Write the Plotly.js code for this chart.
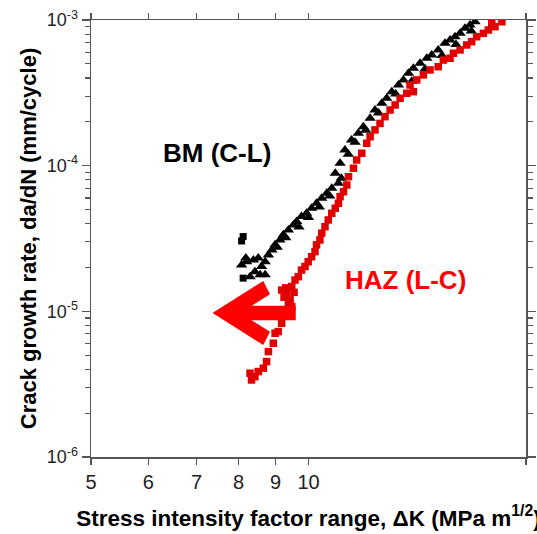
<!DOCTYPE html>
<html>
<head>
<meta charset="utf-8">
<script src="https://cdn.plot.ly/plotly-3.0.1.min.js"></script>
<style>html,body{margin:0;padding:0;background:#fff;}#chart{width:537px;height:534px;}</style>
</head>
<body>
<div id="chart"></div>
<script>
// Base metal (C-L), black triangles
var bmK = [8.19, 8.08, 8.21, 8.30, 8.43, 8.39, 8.52, 8.61, 8.71, 8.57, 8.71, 8.80, 8.90, 8.99, 9.13, 9.23, 9.38, 9.53, 9.63, 9.78, 9.94, 10.10, 10.26, 10.43, 10.60, 10.77, 11.00, 10.89, 11.06, 11.23, 11.47, 11.72, 11.91, 12.17, 12.36, 12.63, 12.83, 13.04, 13.32, 13.53, 13.75, 13.97, 14.27, 14.58, 14.81, 15.12, 15.45, 15.70, 15.95, 16.21, 16.47, 16.73, 17.00,
  9.05, 9.30, 9.70, 10.00, 10.35, 10.70, 11.10, 11.35, 11.60, 12.00, 12.50, 13.20, 13.90, 14.50, 15.30, 16.00, 16.80];
var bmRate = [2.32e-5, 2.08e-5, 2.19e-5, 1.73e-5, 1.87e-5, 2.25e-5, 2.32e-5, 2.03e-5, 1.78e-5, 1.78e-5, 2.19e-5, 2.44e-5, 2.64e-5, 2.86e-5, 3.09e-5, 3.35e-5, 3.62e-5, 3.92e-5, 4.13e-5, 4.47e-5, 4.71e-5, 5.10e-5, 5.52e-5, 5.98e-5, 6.47e-5, 7.00e-5, 7.57e-5, 8.86e-5, 1.04e-4, 1.28e-4, 1.50e-4, 1.67e-4, 1.85e-4, 2.12e-4, 2.41e-4, 2.68e-4, 2.90e-4, 3.22e-4, 3.58e-4, 3.88e-4, 4.31e-4, 4.66e-4, 5.04e-4, 5.46e-4, 5.75e-4, 6.23e-4, 6.92e-4, 7.29e-4, 7.68e-4, 8.10e-4, 8.77e-4, 9.24e-4, 9.73e-4,
  2.75e-5, 3.20e-5, 3.80e-5, 4.40e-5, 5.20e-5, 6.20e-5, 8.20e-5, 1.20e-4, 1.45e-4, 1.75e-4, 2.30e-4, 3.10e-4, 3.80e-4, 4.60e-4, 5.70e-4, 6.80e-4, 8.40e-4];
// Base metal early points plotted as squares
var bmSqK = [8.12, 8.08, 8.12];
var bmSqRate = [3.26e-5, 3.04e-5, 1.69e-5];
// Heat affected zone (L-C), red squares
var hazK = [8.30, 8.34, 8.43, 8.52, 8.66, 8.75, 8.80, 8.94, 8.99, 9.08, 9.18,
  9.18, 9.33, 9.43, 9.48, 9.48, 9.58, 9.68, 9.78, 9.89, 9.99, 10.10, 10.21, 10.26, 10.37, 10.43, 10.54, 10.65, 10.77, 10.89, 11.00, 11.06, 11.18, 11.30, 11.36, 11.54, 11.66, 11.85, 12.04, 12.17, 12.36, 12.56, 12.76, 12.97, 13.18, 13.39, 13.68, 13.97, 13.82, 14.12, 14.42, 14.73, 15.12, 15.37, 15.70, 15.87, 16.21, 16.56, 16.82, 17.09, 17.46, 17.74, 17.93, 18.12, 18.52,
  9.25, 9.38, 9.55, 9.30];
var hazRate = [3.76e-6, 3.38e-6, 3.56e-6, 3.86e-6, 4.07e-6, 4.52e-6, 5.29e-6, 6.04e-6, 7.07e-6, 7.26e-6, 8.28e-6,
  1.40e-5, 1.33e-5, 1.20e-5, 1.08e-5, 1.48e-5, 1.64e-5, 1.73e-5, 1.92e-5, 2.03e-5, 2.19e-5, 2.37e-5, 2.57e-5, 2.86e-5, 3.09e-5, 3.44e-5, 3.81e-5, 4.24e-5, 4.71e-5, 5.10e-5, 5.52e-5, 6.13e-5, 6.63e-5, 7.37e-5, 8.40e-5, 9.60e-5, 1.094e-4, 1.217e-4, 1.425e-4, 1.58e-4, 1.76e-4, 1.95e-4, 2.17e-4, 2.41e-4, 2.61e-4, 2.90e-4, 3.14e-4, 3.22e-4, 3.58e-4, 3.88e-4, 4.20e-4, 4.54e-4, 4.78e-4, 5.31e-4, 5.46e-4, 5.91e-4, 6.23e-4, 6.74e-4, 7.10e-4, 7.68e-4, 8.10e-4, 8.54e-4, 9.49e-4, 9.00e-4, 9.73e-4,
  1.25e-5, 1.15e-5, 1.35e-5, 1.45e-5];

var xTickVals = [5, 6, 7, 8, 9, 10, 20];
var xTickText = ['5', '6', '7', '8', '9', '10', '20'];
var yTickVals = [1e-6, 1e-5, 1e-4, 1e-3];
var yTickText = ['10<sup>-6</sup>', '10<sup>-5</sup>', '10<sup>-4</sup>', '10<sup>-3</sup>'];
var yMinorVals = [];
[1e-6, 1e-5, 1e-4].forEach(function (d) { for (var m = 2; m <= 9; m++) yMinorVals.push(m * d); });

var FONT = 'Arial, "Liberation Sans", sans-serif';

var traces = [
  {x: bmK, y: bmRate, type: 'scatter', mode: 'markers', name: 'BM (C-L)',
   marker: {symbol: 'triangle-up', size: 10, color: '#000000'}},
  {x: bmSqK, y: bmSqRate, type: 'scatter', mode: 'markers', name: 'BM (C-L)',
   marker: {symbol: 'square', size: 7, color: '#000000'}},
  {x: hazK, y: hazRate, type: 'scatter', mode: 'markers', name: 'HAZ (L-C)',
   marker: {symbol: 'square', size: 7.5, color: '#e00000'}}
];

// big red arrow (decoration, paper coordinates)
var arrowPath = 'M 0.2828,0.3295 L 0.3954,0.4005 L 0.4092,0.3730 L 0.3632,0.3444 L 0.4690,0.3444 ' +
                'L 0.4690,0.3146 L 0.3632,0.3146 L 0.4092,0.2860 L 0.3954,0.2586 Z';

var layout = {
  width: 537, height: 534,
  margin: {l: 91, r: 11, t: 20, b: 77},
  paper_bgcolor: '#ffffff', plot_bgcolor: '#ffffff',
  showlegend: false,
  font: {family: FONT, color: '#222'},
  xaxis: {
    type: 'log', range: [Math.log10(5), Math.log10(20)],
    tickmode: 'array', tickvals: xTickVals, ticktext: xTickText,
    ticks: 'outside', ticklen: 6, tickwidth: 1.2, tickcolor: '#555',
    showline: true, linecolor: '#555', linewidth: 1.5, mirror: 'ticks',
    showgrid: false, zeroline: false,
    tickfont: {size: 20, family: FONT, color: '#222'},
    title: {text: 'Stress intensity factor range, \u0394K (MPa m<sup>1/2</sup>)',
            font: {size: 22.5, family: FONT, color: '#000', weight: 'bold'}, standoff: 18}
  },
  yaxis: {
    type: 'log', range: [-6, -3],
    tickmode: 'array', tickvals: yTickVals, ticktext: yTickText,
    ticks: 'outside', ticklen: 8, tickwidth: 1.2, tickcolor: '#555',
    minor: {tickmode: 'array', tickvals: yMinorVals, ticks: 'outside', ticklen: 5, tickwidth: 1.2, tickcolor: '#555', showgrid: false},
    showline: true, linecolor: '#555', linewidth: 1.5, mirror: 'ticks',
    showgrid: false, zeroline: false,
    tickfont: {size: 18, family: FONT, color: '#222'},
    title: {text: 'Crack growth rate, da/dN (mm/cycle)',
            font: {size: 22, family: FONT, color: '#000', weight: 'bold'}, standoff: 4}
  },
  annotations: [
    {xref: 'paper', yref: 'paper', x: 0.29, y: 0.696, xanchor: 'center', yanchor: 'middle', showarrow: false,
     text: '<b>BM (C-L)</b>', font: {size: 26, family: FONT, color: '#000'}},
    {xref: 'paper', yref: 'paper', x: 0.724, y: 0.405, xanchor: 'center', yanchor: 'middle', showarrow: false,
     text: '<b>HAZ (L-C)</b>', font: {size: 26, family: FONT, color: '#ff0000'}}
  ],
  shapes: [
    {type: 'path', xref: 'paper', yref: 'paper', path: arrowPath,
     fillcolor: '#ff0000', line: {color: '#ff0000', width: 1.5}}
  ]
};

Plotly.newPlot('chart', traces, layout, {displayModeBar: false, staticPlot: true});
</script>
</body>
</html>
